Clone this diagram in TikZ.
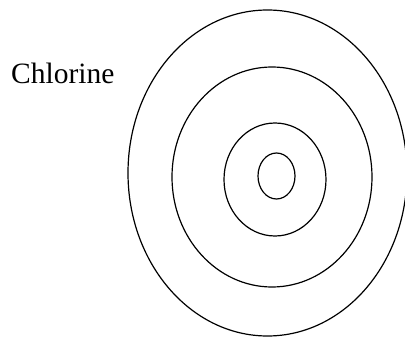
\documentclass[tikz,border=0pt]{standalone}
\usepackage{fontspec}
\setmainfont{Liberation Serif}
\begin{document}
\begin{tikzpicture}[x=1pt,y=-1pt,shell/.style={draw=black,line width=1.2pt}]
\useasboundingbox (0,0) rectangle (405,337);
\clip (0,0) rectangle (405,337);
\draw[shell] (267.5,173) ellipse [x radius=139.5, y radius=163];
\draw[shell] (272,177) ellipse [x radius=100, y radius=110];
\draw[shell] (275,179.5) ellipse [x radius=51, y radius=56.5];
\draw[shell] (276.5,176) ellipse [x radius=18.5, y radius=23];
\node[anchor=base west,inner sep=0pt,font=\fontsize{29.5}{34}\selectfont] (label) at (11,84) {Chlorine};
\end{tikzpicture}
\end{document}
